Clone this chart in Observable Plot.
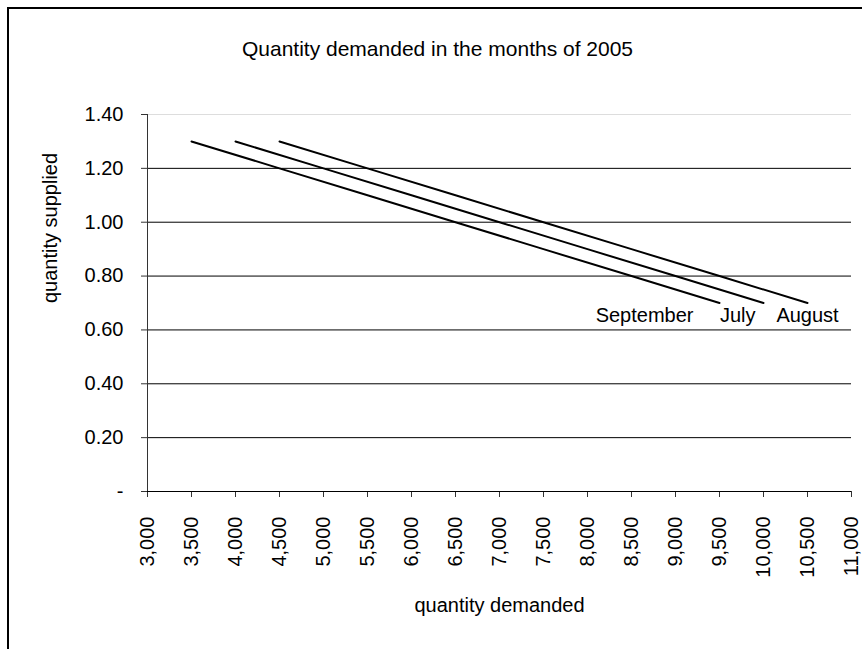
<!DOCTYPE html>
<html>
<head>
<meta charset="utf-8">
<script src="https://cdn.jsdelivr.net/npm/d3@7"></script>
<script src="https://cdn.jsdelivr.net/npm/@observablehq/plot@0.6"></script>
<style>
  html, body { margin: 0; padding: 0; background: #fff; overflow: hidden; }
  #wrap { position: relative; width: 862px; height: 649px; }
  #frame { position: absolute; left: 7px; top: 7px; width: 900px; height: 700px;
           border-left: 2px solid #000; border-top: 2px solid #000; box-sizing: border-box; }
  #chart { position: absolute; left: 0; top: 0; }
</style>
</head>
<body>
<div id="wrap"><div id="frame"></div><div id="chart"></div></div>
<script>
// ---- data ----
const title = "Quantity demanded in the months of 2005";
const xLabel = "quantity demanded";
const yLabel = "quantity supplied";
const prices = [1.30, 1.20, 1.10, 1.00, 0.90, 0.80, 0.70];
const julyQty = [4000, 5000, 6000, 7000, 8000, 9000, 10000];
const augustQty = [4500, 5500, 6500, 7500, 8500, 9500, 10500];
const septemberQty = [3500, 4500, 5500, 6500, 7500, 8500, 9500];
const months = ["July", "August", "September"];
const xTicks = [3000, 3500, 4000, 4500, 5000, 5500, 6000, 6500, 7000, 7500, 8000, 8500, 9000, 9500, 10000, 10500, 11000];
const yTicks = [0, 0.2, 0.4, 0.6, 0.8, 1.0, 1.2, 1.4];

// ---- build table ----
const qtyByMonth = {July: julyQty, August: augustQty, September: septemberQty};
const rows = months.flatMap(m => prices.map((p, i) => ({month: m, qty: qtyByMonth[m][i], price: p})));
const minPrice = d3.min(prices);
const ends = rows.filter(r => r.price === minPrice);
const endOf = m => ends.filter(r => r.month === m);

const fmtX = d3.format(",");
const fmtY = d => d === 0 ? "-" : d.toFixed(2);

const chart = Plot.plot({
  width: 862,
  height: 649,
  marginLeft: 147,
  marginRight: 11,
  marginTop: 114,
  marginBottom: 158,
  style: {fontFamily: "'Liberation Sans', Arial, sans-serif", fontSize: "20px", color: "#000", background: "transparent"},
  x: {domain: [3000, 11000]},
  y: {domain: [0, 1.4]},
  marks: [
    // gridlines
    Plot.ruleY(yTicks.filter(v => v > 0 && v < 1.4), {stroke: "#000", strokeWidth: 1}),
    Plot.ruleY(yTicks.filter(v => v === 1.4), {stroke: "#ddd", strokeWidth: 1}),
    // axes
    Plot.axisY({ticks: yTicks, tickFormat: fmtY, tickSize: 6, tickPadding: 18, label: null, stroke: "#333"}),
    Plot.axisX({ticks: xTicks, tickFormat: fmtX, tickSize: 6, tickPadding: 19, tickRotate: -90, label: null, stroke: "#333"}),
    Plot.ruleX([3000], {y1: 0, y2: 1.4, stroke: "#333"}),
    Plot.ruleY([0], {x1: 3000, x2: 11000, stroke: "#000"}),
    // demand lines
    Plot.line(rows, {x: "qty", y: "price", z: "month", stroke: "#000", strokeWidth: 2}),
    // series labels
    Plot.text(endOf("September"), {x: "qty", y: "price", text: "month", textAnchor: "end", dx: -26, dy: 13, fill: "#000"}),
    Plot.text(endOf("July"), {x: "qty", y: "price", text: "month", textAnchor: "end", dx: -8, dy: 13, fill: "#000"}),
    Plot.text(endOf("August"), {x: "qty", y: "price", text: "month", textAnchor: "middle", dx: 0, dy: 13, fill: "#000"}),
    // titles
    Plot.text([title], {frameAnchor: "top", dx: -62, dy: -73, fontSize: 21, fill: "#000"}),
    Plot.text([xLabel], {frameAnchor: "bottom", dy: 120, fill: "#000"}),
    Plot.text([yLabel], {frameAnchor: "left", dx: -97, rotate: -90, fill: "#000"})
  ]
});
document.getElementById("chart").appendChild(chart);
</script>
</body>
</html>
